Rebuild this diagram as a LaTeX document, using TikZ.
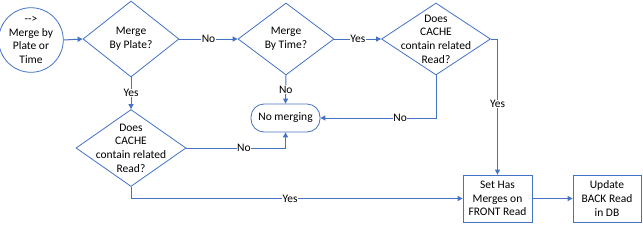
\documentclass[tikz,border=0pt]{standalone}
\usepackage{fontspec}
\setmainfont{Carlito}
\usetikzlibrary{arrows.meta,positioning,shapes.geometric}
\definecolor{flowblue}{RGB}{68,114,196}

\begin{document}
\begin{tikzpicture}[x=1pt,y=-1pt,>=Latex,
  flow/.style={draw=flowblue,line width=0.8pt,fill=white,align=center,font=\fontsize{11.5}{13.6}\selectfont},
  decision/.style={flow,diamond,inner sep=-12pt},
  stepbox/.style={flow,rectangle,inner sep=0pt},
  link/.style={-{Triangle[length=5pt,width=5pt]},draw=flowblue,line width=1pt},
  tag/.style={fill=white,inner sep=0.5pt,font=\fontsize{11.5}{13.6}\selectfont}]
\useasboundingbox (0,0) rectangle (643,226);
\node[flow,circle,inner sep=0pt,minimum size=61pt] (s0) at (31,40) {{-}{-}>\\Merge by\\Plate or\\Time};
\node[decision,minimum width=96pt,minimum height=76pt] (d0) at (131,39) {Merge\\By Plate?};
\node[decision,minimum width=96pt,minimum height=72pt] (d1) at (286,39) {Merge\\By Time?};
\node[decision,minimum width=109pt,minimum height=72pt] (d2) at (436,39) {Does\\CACHE\\contain related\\Read?};
\node[decision,minimum width=110pt,minimum height=77pt] (d3) at (131,148) {Does\\CACHE\\contain related\\Read?};
\node[stepbox,rounded corners=13pt,minimum width=69pt,minimum height=28pt] (nm) at (285.5,118) {No merging};
\node[stepbox,minimum width=69pt,minimum height=47pt] (b0) at (497.5,198.5) {Set Has\\Merges on\\FRONT Read};
\node[stepbox,minimum width=68pt,minimum height=47pt] (b1) at (607,198.5) {Update\\BACK Read\\in DB};
\draw[link] (s0.east) -- (d0.west);
\draw[link] (d0.east) -- node[tag] {No} (d1.west);
\draw[link] (d1.east) -- node[tag] {Yes} (d2.west);
\draw[link] (d0.south) -- node[tag] {Yes} (d3.north);
\draw[link] (d1.south) -- node[tag] {No} (nm.north);
\draw[link] (d2.south) |- node[tag,pos=0.655] {No} (nm.east);
\draw[link] (d3.east) -| node[tag,pos=0.29] {No} (nm.south);
\draw[link] (d2.east) -| node[tag,pos=0.74] {Yes} (b0.north);
\draw[link] (d3.south) |- node[tag,pos=0.74] {Yes} (b0.west);
\draw[link] (b0.east) -- (b1.west);
\end{tikzpicture}
\end{document}
